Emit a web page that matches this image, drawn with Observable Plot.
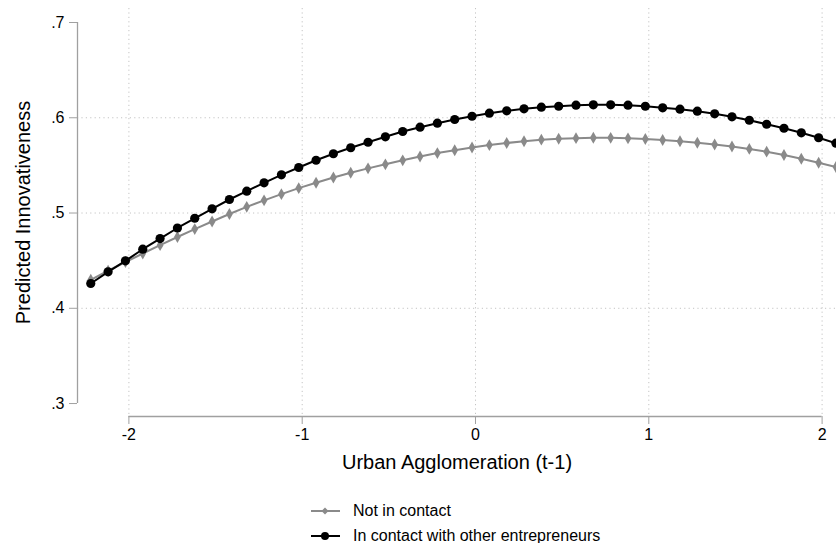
<!DOCTYPE html>
<html>
<head>
<meta charset="utf-8">
<script src="https://cdn.jsdelivr.net/npm/d3@7"></script>
<script src="https://cdn.jsdelivr.net/npm/@observablehq/plot@0.6"></script>
<style>
  html, body { margin: 0; padding: 0; background: #fff; }
  #wrap { position: relative; width: 836px; height: 543px; font-family: "Liberation Sans", Arial, sans-serif; }
  #legend { position: absolute; left: 310px; top: 498px; font-size: 16px; color: #000; }
  .row { display: flex; align-items: center; height: 25.5px; }
  .row svg { margin-right: 12px; }
</style>
</head>
<body>
<div id="wrap">
  <div id="chart"></div>
  <div id="legend"></div>
</div>
<script>
const xValues = [-2.22,-2.12,-2.02,-1.92,-1.82,-1.72,-1.62,-1.52,-1.42,-1.32,-1.22,-1.12,-1.02,-0.92,-0.82,-0.72,-0.62,-0.52,-0.42,-0.32,-0.22,-0.12,-0.02,0.08,0.18,0.28,0.38,0.48,0.58,0.68,0.78,0.88,0.98,1.08,1.18,1.28,1.38,1.48,1.58,1.68,1.78,1.88,1.98,2.08];
const notInContact = [0.4299,0.4394,0.4486,0.4575,0.4663,0.4748,0.4831,0.4911,0.4990,0.5065,0.5133,0.5198,0.5261,0.5318,0.5373,0.5423,0.5469,0.5511,0.5553,0.5593,0.5629,0.5659,0.5688,0.5713,0.5735,0.5754,0.5770,0.5780,0.5786,0.5790,0.5789,0.5784,0.5777,0.5766,0.5754,0.5738,0.5719,0.5698,0.5673,0.5644,0.5609,0.5570,0.5528,0.5483];
const inContact = [0.4260,0.4383,0.4498,0.4620,0.4732,0.4843,0.4945,0.5044,0.5142,0.5229,0.5317,0.5401,0.5478,0.5554,0.5622,0.5685,0.5743,0.5800,0.5856,0.5901,0.5943,0.5982,0.6016,0.6048,0.6073,0.6094,0.6111,0.6121,0.6132,0.6136,0.6136,0.6132,0.6121,0.6104,0.6090,0.6069,0.6041,0.6010,0.5974,0.5932,0.5890,0.5842,0.5790,0.5733];
const seriesNames = ["Not in contact", "In contact with other entrepreneurs"];
const xTicks = [-2, -1, 0, 1, 2];
const yTicks = [0.3, 0.4, 0.5, 0.6, 0.7];
const yGridTicks = [0.4, 0.5, 0.6];
const xTitle = "Urban Agglomeration (t-1)";
const yTitle = "Predicted Innovativeness";

const xDomain = [-2.2966, 2.0831];
const yDomain = [0.2864, 0.7147];
const GRAY = "#8a8a8a";
const AXIS = "#a0a0a0";

const rowsA = xValues.map((x, i) => ({x, y: notInContact[i], s: seriesNames[0]}));
const rowsB = xValues.map((x, i) => ({x, y: inContact[i], s: seriesNames[1]}));

const chart = Plot.plot({
  width: 836,
  height: 482,
  marginLeft: 77,
  marginRight: 0,
  marginTop: 8,
  marginBottom: 66,
  x: {domain: xDomain},
  y: {domain: yDomain},
  style: {fontFamily: "'Liberation Sans', Arial, sans-serif", fontSize: "16px", background: "#fff", color: "#000", overflow: "visible"},
  marks: [
    Plot.ruleY(yGridTicks, {stroke: "#c4c4c4", strokeDasharray: "1.2,3.2", strokeWidth: 1}),
    Plot.ruleX(xTicks, {stroke: "#c4c4c4", strokeDasharray: "1.2,3.2", strokeWidth: 1}),
    Plot.ruleX([xDomain[0]], {y1: yTicks[0], y2: yTicks[yTicks.length - 1], stroke: AXIS, strokeWidth: 1.3}),
    Plot.ruleY([yDomain[0]], {x1: xTicks[0], x2: xTicks[xTicks.length - 1], stroke: AXIS, strokeWidth: 1.3}),
    Plot.axisY({ticks: yTicks, tickSize: 8, tickPadding: 5, tickFormat: d => d.toFixed(1).replace(/^0/, ""), stroke: AXIS, fill: "#000", fontSize: 16, label: yTitle, labelArrow: "none", labelAnchor: "center", labelOffset: 62}),
    Plot.axisX({ticks: xTicks, tickSize: 8, tickPadding: 4, tickFormat: d => String(d), stroke: AXIS, fill: "#000", fontSize: 16, label: xTitle, labelArrow: "none", labelAnchor: "center", labelOffset: 52}),
    Plot.line(rowsA, {x: "x", y: "y", stroke: GRAY, strokeWidth: 2}),
    Plot.dot(rowsA, {x: "x", y: "y", symbol: "diamond", fill: GRAY, r: 3.6, stroke: null}),
    Plot.line(rowsB, {x: "x", y: "y", stroke: "#000", strokeWidth: 2}),
    Plot.dot(rowsB, {x: "x", y: "y", symbol: "circle", fill: "#000", r: 4.6, stroke: null})
  ]
});
document.getElementById("chart").appendChild(chart);

// style axis titles and strip any arrow glyphs
chart.querySelectorAll("[aria-label='y-axis label'] text, [aria-label='x-axis label'] text").forEach(t => {
  t.setAttribute("font-size", "20");
  t.textContent = t.textContent.replace(/\s*[↑→←↓]\s*/g, "").trim();
});

// legend (HTML)
const legend = document.getElementById("legend");
const legendItems = [
  {name: seriesNames[0], color: GRAY, shape: "diamond"},
  {name: seriesNames[1], color: "#000", shape: "circle"}
];
legendItems.forEach(item => {
  const row = document.createElement("div");
  row.className = "row";
  const marker = item.shape === "circle"
    ? `<circle cx="15" cy="7" r="4" fill="${item.color}"/>`
    : `<path d="M15,3.5L18.5,7L15,10.5L11.5,7Z" fill="${item.color}"/>`;
  row.innerHTML = `<svg width="31" height="14"><line x1="1" x2="30" y1="7" y2="7" stroke="${item.color}" stroke-width="2"/>${marker}</svg><span>${item.name}</span>`;
  legend.appendChild(row);
});
</script>
</body>
</html>
